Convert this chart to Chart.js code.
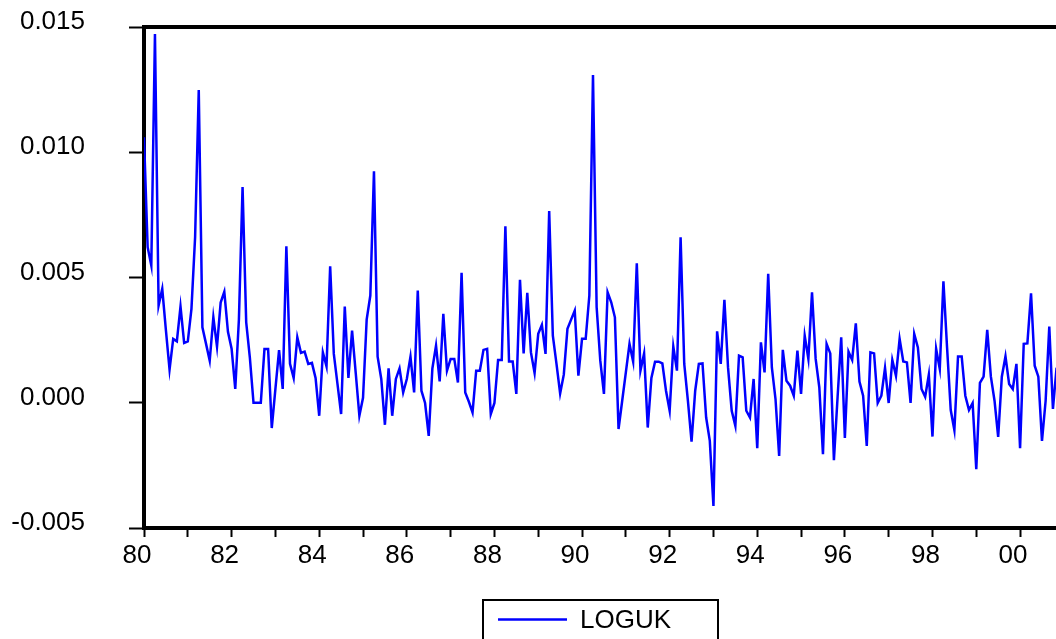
<!DOCTYPE html>
<html>
<head>
<meta charset="utf-8">
<script src="https://cdn.jsdelivr.net/npm/chart.js@4.4.0/dist/chart.umd.min.js"></script>
<style>
  html, body { margin: 0; padding: 0; background: #fff; }
  #wrap { width: 1056px; height: 639px; position: relative; overflow: hidden; }
</style>
</head>
<body>
<div id="wrap"><canvas id="chart" width="1056" height="639"></canvas></div>
<script>
const seriesName = "LOGUK";
const startYear = 80; // first observation is 1980:01, monthly

// monthly values, one row per year
const loguk1980s = [
  0.01060, 0.00621, 0.00548, 0.01472, 0.00388, 0.00455, 0.00290, 0.00132, 0.00255, 0.00245, 0.00384, 0.00239,
  0.00245, 0.00375, 0.00661, 0.01248, 0.00301, 0.00235, 0.00168, 0.00341, 0.00224, 0.00400, 0.00443, 0.00283,
  0.00216, 0.00055, 0.00333, 0.00861, 0.00321, 0.00180, 0.00000, 0.00000, 0.00000, 0.00215, 0.00215, -0.00101,
  0.00055, 0.00210, 0.00055, 0.00625, 0.00155, 0.00099, 0.00261, 0.00199, 0.00204, 0.00155, 0.00159, 0.00099,
  -0.00052, 0.00201, 0.00145, 0.00545, 0.00195, 0.00075, -0.00045, 0.00384, 0.00099, 0.00288, 0.00119, -0.00052,
  0.00020, 0.00332, 0.00428, 0.00924, 0.00184, 0.00095, -0.00088, 0.00137, -0.00052, 0.00095, 0.00137, 0.00041,
  0.00095, 0.00184, 0.00041, 0.00448, 0.00048, -0.00001, -0.00132, 0.00137, 0.00228, 0.00085, 0.00355, 0.00128,
  0.00175, 0.00175, 0.00081, 0.00519, 0.00041, 0.00004, -0.00039, 0.00128, 0.00128, 0.00211, 0.00215, -0.00045,
  -0.00001, 0.00171, 0.00171, 0.00704, 0.00165, 0.00165, 0.00035, 0.00491, 0.00197, 0.00439, 0.00201, 0.00119,
  0.00275, 0.00311, 0.00195, 0.00765, 0.00268, 0.00155, 0.00037, 0.00112, 0.00295, 0.00332, 0.00368, 0.00108
];
const loguk1990s = [
  0.00255, 0.00255, 0.00428, 0.01308, 0.00381, 0.00168, 0.00035, 0.00441, 0.00401, 0.00341, -0.00105, 0.00008,
  0.00121, 0.00235, 0.00164, 0.00557, 0.00128, 0.00197, -0.00099, 0.00099, 0.00164, 0.00164, 0.00157, 0.00048,
  -0.00032, 0.00224, 0.00128, 0.00661, 0.00155, 0.00008, -0.00155, 0.00048, 0.00155, 0.00157, -0.00059, -0.00152,
  -0.00412, 0.00285, 0.00155, 0.00411, 0.00140, -0.00032, -0.00092, 0.00188, 0.00181, -0.00032, -0.00059, 0.00095,
  -0.00181, 0.00241, 0.00121, 0.00515, 0.00141, 0.00015, -0.00212, 0.00211, 0.00088, 0.00068, 0.00028, 0.00208,
  0.00035, 0.00268, 0.00175, 0.00441, 0.00175, 0.00061, -0.00205, 0.00235, 0.00197, -0.00229, 0.00021, 0.00261,
  -0.00141, 0.00204, 0.00171, 0.00317, 0.00085, 0.00028, -0.00172, 0.00201, 0.00197, -0.00001, 0.00028, 0.00139,
  -0.00001, 0.00171, 0.00108, 0.00255, 0.00165, 0.00161, -0.00001, 0.00275, 0.00221, 0.00055, 0.00024, 0.00112,
  -0.00135, 0.00215, 0.00135, 0.00485, 0.00220, -0.00029, -0.00109, 0.00185, 0.00185, 0.00028, -0.00029, -0.00001,
  -0.00265, 0.00079, 0.00104, 0.00291, 0.00104, 0.00008, -0.00136, 0.00104, 0.00185, 0.00075, 0.00055, 0.00155
];
const loguk2000s = [
  -0.00181, 0.00235, 0.00237, 0.00437, 0.00148, 0.00104, -0.00152, 0.00008, 0.00304, -0.00025, 0.00140
];

const yearTicks = [80, 81, 82, 83, 84, 85, 86, 87, 88, 89, 90, 91, 92, 93, 94, 95, 96, 97, 98, 99, 100];
const yearTickLabels = ["80", "", "82", "", "84", "", "86", "", "88", "", "90", "", "92", "", "94", "", "96", "", "98", "", "00"];
const yTicks = [-0.005, 0, 0.005, 0.010, 0.015];
const yTickLabels = ["-0.005", "0.000", "0.005", "0.010", "0.015"];

const FONT = '"Liberation Sans", Arial, Helvetica, sans-serif';
Chart.defaults.font.family = FONT;
Chart.defaults.font.size = 26;
Chart.defaults.color = '#000';

const allValues = loguk1980s.concat(loguk1990s, loguk2000s);
const points = allValues.map((v, i) => ({ x: startYear + i / 12, y: v }));

// top frame line + boxed legend (EViews style)
const framePlugin = {
  id: 'frame',
  afterDraw(chart) {
    const { ctx, chartArea: a } = chart;
    const ds = chart.data.datasets[0];
    ctx.save();
    ctx.strokeStyle = '#000';
    ctx.lineWidth = 4;
    ctx.beginPath();
    ctx.moveTo(a.left - 2, a.top);
    ctx.lineTo(a.right, a.top);
    ctx.stroke();

    ctx.lineWidth = 2;
    ctx.strokeRect(483, 600, 235, 60);
    ctx.strokeStyle = ds.borderColor;
    ctx.lineWidth = 2.5;
    ctx.beginPath();
    ctx.moveTo(498, 619.5);
    ctx.lineTo(567, 619.5);
    ctx.stroke();
    ctx.fillStyle = '#000';
    ctx.font = '26px ' + FONT;
    ctx.textBaseline = 'alphabetic';
    ctx.textAlign = 'left';
    ctx.fillText(ds.label, 580, 628);
    ctx.restore();
  }
};

new Chart(document.getElementById('chart'), {
  type: 'line',
  data: {
    datasets: [{
      label: seriesName,
      data: points,
      borderColor: '#0000ff',
      borderWidth: 2.5,
      pointRadius: 0,
      tension: 0,
      fill: false
    }]
  },
  options: {
    responsive: false,
    animation: false,
    layout: { padding: { top: 27, right: 0, left: 0, bottom: 0 } },
    plugins: { legend: { display: false }, tooltip: { enabled: false } },
    scales: {
      x: {
        type: 'linear',
        min: 80,
        max: 100.82,
        afterBuildTicks: (s) => { s.ticks = yearTicks.map(v => ({ value: v })); },
        afterFit: (s) => { s.height = 111; s.paddingLeft = 0; s.paddingRight = 0; },
        border: { display: true, color: '#000', width: 4 },
        grid: { drawOnChartArea: false, drawTicks: true, tickLength: 9, tickWidth: 2, tickColor: '#000' },
        ticks: {
          autoSkip: false,
          maxRotation: 0,
          padding: 3,
          labelOffset: -7,
          callback: (v, i) => yearTickLabels[i]
        }
      },
      y: {
        min: -0.005,
        max: 0.015,
        afterBuildTicks: (s) => { s.ticks = yTicks.map(v => ({ value: v })); },
        afterFit: (s) => { s.width = 144; s.paddingTop = 0; s.paddingBottom = 0; },
        border: { display: true, color: '#000', width: 4 },
        grid: { drawOnChartArea: false, drawTicks: true, tickLength: 15, tickWidth: 2, tickColor: '#000' },
        ticks: {
          padding: 44,
          labelOffset: -5,
          callback: (v, i) => yTickLabels[i]
        }
      }
    }
  },
  plugins: [framePlugin]
});
</script>
</body>
</html>
